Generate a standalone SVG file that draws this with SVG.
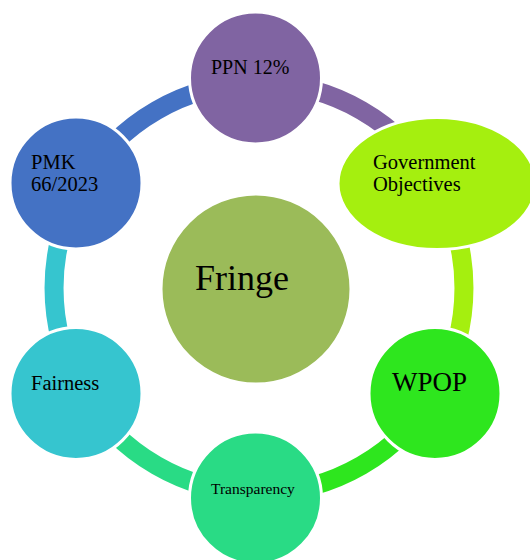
<svg xmlns="http://www.w3.org/2000/svg" width="530" height="560" viewBox="0 0 530 560">
<style>
.arc{fill:none;stroke-width:19;stroke-linecap:butt}
.node{stroke:#ffffff;stroke-width:3}
text{font-family:"Liberation Serif","Times New Roman",serif;fill:#000000}
</style>
<rect width="530" height="560" fill="#ffffff"/>
<g id="connectors">
<path class="arc" stroke="#8064A2" d="M259,83 A205,205 0 0 1 436.5,185.5"/>
<path class="arc" stroke="#A5EF0F" d="M436.5,185.5 A205,205 0 0 1 436.5,390.5"/>
<path class="arc" stroke="#2EE61E" d="M436.5,390.5 A205,205 0 0 1 259,493"/>
<path class="arc" stroke="#29DB85" d="M259,493 A205,205 0 0 1 81.5,390.5"/>
<path class="arc" stroke="#36C5CF" d="M81.5,390.5 A205,205 0 0 1 81.5,185.5"/>
<path class="arc" stroke="#4472C4" d="M81.5,185.5 A205,205 0 0 1 259,83"/>
</g>
<g id="fringe">
<circle class="node" cx="256" cy="289" r="95" fill="#9BBB59"/>
<text x="195" y="290" font-size="36">Fringe</text>
</g>
<g id="ppn">
<circle class="node" cx="255.5" cy="78" r="66" fill="#8064A2"/>
<text x="211" y="74" font-size="20">PPN 12%</text>
</g>
<g id="government">
<ellipse class="node" cx="437" cy="183.5" rx="99" ry="66" fill="#A5EF0F"/>
<text font-size="20.5"><tspan x="373" y="168.5">Government</tspan><tspan x="373" y="191">Objectives</tspan></text>
</g>
<g id="wpop">
<circle class="node" cx="435" cy="393.5" r="66" fill="#2EE61E"/>
<text x="392" y="391" font-size="27">WPOP</text>
</g>
<g id="transparency">
<circle class="node" cx="255.5" cy="498" r="66" fill="#29DB85"/>
<text x="211" y="493.5" font-size="15.5">Transparency</text>
</g>
<g id="fairness">
<circle class="node" cx="76" cy="393.5" r="66" fill="#36C5CF"/>
<text x="31" y="390" font-size="20.5">Fairness</text>
</g>
<g id="pmk">
<circle class="node" cx="76" cy="183" r="66" fill="#4472C4"/>
<text font-size="20.5"><tspan x="31" y="168.5">PMK</tspan><tspan x="31" y="191">66/2023</tspan></text>
</g>
</svg>
